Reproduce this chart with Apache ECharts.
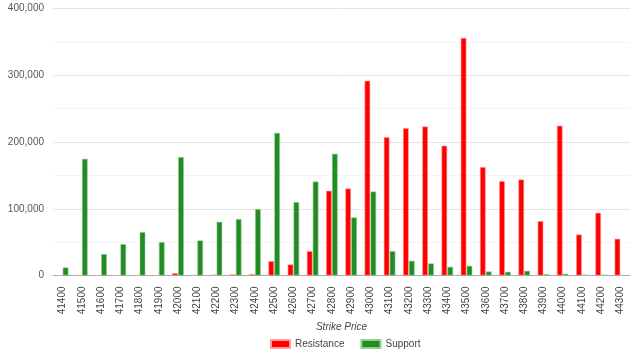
<!DOCTYPE html>
<html>
<head>
<meta charset="utf-8">
<script src="https://cdn.jsdelivr.net/npm/echarts@6/dist/echarts.min.js"></script>
<style>
  html, body { margin: 0; padding: 0; background: #fff; }
  #main { width: 639px; height: 354px; }
</style>
</head>
<body>
<div id="main"></div>
<script>
// strike prices
var strikes = ['41400','41500','41600','41700','41800','41900','42000','42100','42200','42300',
  '42400','42500','42600','42700','42800','42900','43000','43100','43200','43300',
  '43400','43500','43600','43700','43800','43900','44000','44100','44200','44300'];

// call OI -> resistance
var resistance = [0, 500, 0, 0, 0, 0, 3500, 500, 1000, 1500,
  2000, 21500, 16500, 36500, 127000, 130300, 291700, 207300, 220800, 223200,
  194300, 356000, 162400, 141400, 143800, 81500, 224300, 61400, 93900, 55000];

// put OI -> support
var support = [12000, 174800, 32000, 47000, 65000, 50000, 177400, 52500, 80400, 84500,
  99500, 213700, 110000, 140800, 182300, 86900, 125800, 36500, 22000, 18000,
  13000, 14500, 6000, 5500, 7000, 2000, 2500, 1000, 1000, 0];

var yTicks = [0, 100000, 200000, 300000, 400000];

var font = '"Liberation Sans", Arial, sans-serif';

var myChart = echarts.init(document.getElementById('main'), null, { renderer: 'canvas' });

myChart.setOption({
  animation: false,
  textStyle: { fontFamily: font },
  grid: { left: 53, right: 9, top: 8.5, bottom: 78.5 },
  legend: {
    data: ['Resistance', 'Support'],
    icon: 'rect',
    top: 334,
    left: 265,
    itemWidth: 19,
    itemHeight: 8,
    itemGap: 16,
    textStyle: { fontSize: 10, color: '#444', fontFamily: font }
  },
  xAxis: {
    type: 'category',
    data: strikes,
    name: 'Strike Price',
    nameLocation: 'middle',
    nameGap: 44,
    nameTextStyle: { fontSize: 10, fontStyle: 'italic', color: '#444', fontFamily: font },
    axisLine: { lineStyle: { color: '#aaa', width: 1 } },
    axisTick: { show: false },
    axisLabel: { rotate: 90, fontSize: 10, color: '#444', margin: 11, interval: 0, fontFamily: font }
  },
  yAxis: {
    type: 'value',
    min: yTicks[0],
    max: yTicks[yTicks.length - 1],
    interval: 100000,
    axisLine: { show: false },
    axisTick: { show: false },
    axisLabel: {
      fontSize: 10, color: '#555', margin: 9, fontFamily: font,
      formatter: function (v) { return v.toLocaleString('en-US'); }
    },
    splitLine: { lineStyle: { color: '#e4e4e4' } },
    minorTick: { show: false, splitNumber: 2 },
    minorSplitLine: { show: true, lineStyle: { color: '#f3f3f3' } }
  },
  series: [
    {
      name: 'Resistance',
      type: 'bar',
      data: resistance,
      barGap: '5%',
      barCategoryGap: '40%',
      itemStyle: { color: '#ff0000', borderColor: '#ff9a9a', borderWidth: 0.6 }
    },
    {
      name: 'Support',
      type: 'bar',
      data: support,
      itemStyle: { color: '#228b22', borderColor: '#8fcf8f', borderWidth: 0.6 }
    }
  ]
});
</script>
</body>
</html>
